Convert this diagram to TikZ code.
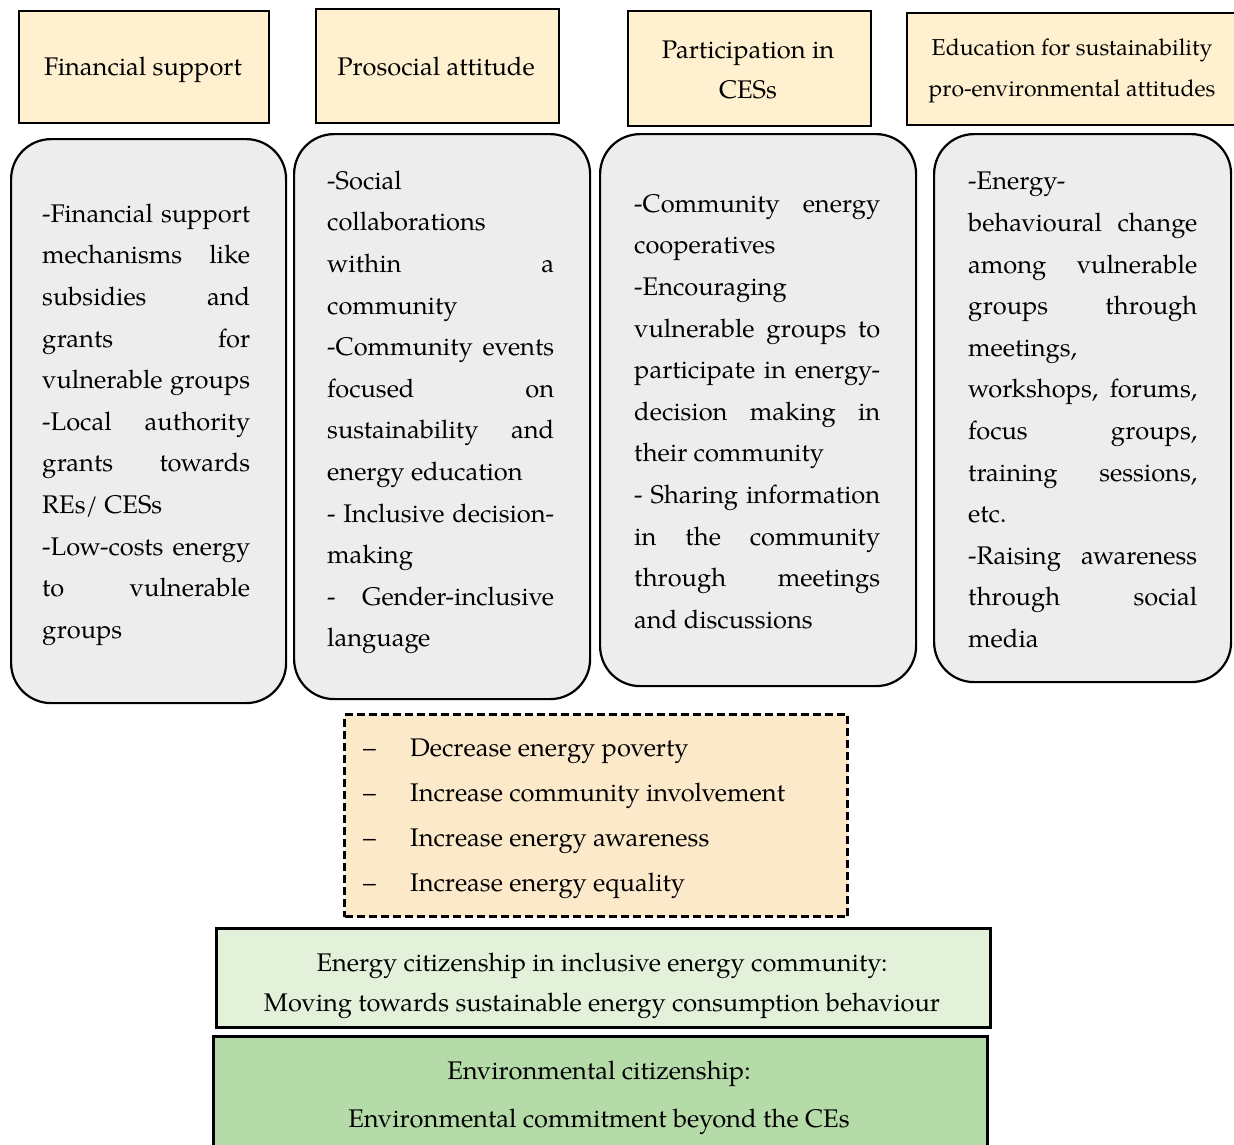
\documentclass[tikz,border=0pt]{standalone}
\usepackage{fontspec}
\setmainfont{TeX Gyre Pagella}
\definecolor{topfill}{HTML}{FFF0CF}
\definecolor{goalfill}{HTML}{FCE9CA}
\definecolor{grayfill}{HTML}{EDEDED}
\definecolor{greenA}{HTML}{E3F1DA}
\definecolor{greenB}{HTML}{B5DBA8}
\newcommand{\jline}[2]{\makebox[#1pt][s]{#2}}
\begin{document}
\begin{tikzpicture}[x=1pt,y=-1pt,
  topbox/.style={draw=black, line width=2.4pt, fill=topfill, anchor=north west, inner sep=0pt},
  graybox/.style={draw=black, line width=2.2pt, fill=grayfill, rounded corners=40pt, anchor=north west, inner sep=0pt},
  goalbox/.style={draw=black, line width=3pt, dash pattern=on 8pt off 4pt, fill=goalfill, anchor=north west, inner sep=0pt},
  greenbox/.style={draw=black, line width=2.8pt, anchor=north west, inner sep=0pt},
  body/.style={anchor=north west, inner sep=0pt, align=left, font=\fontsize{25.5}{41.6}\selectfont},
  ctext/.style={anchor=north, inner sep=0pt, align=center}
]
\useasboundingbox (0,0) rectangle (1234,1144);
\fill[white] (0,0) rectangle (1234,1144);

% header boxes
\node[topbox, minimum width=250, minimum height=112] (h1) at (18,10) {};
\node[topbox, minimum width=243, minimum height=114] (h2) at (315,8) {};
\node[topbox, minimum width=243, minimum height=115] (h3) at (627,10) {};
\node[topbox, minimum width=340, minimum height=112] (h4) at (906,12) {};

\node[ctext, font=\fontsize{25.5}{40}\selectfont] (t1) at (143,47) {\strut Financial support};
\node[ctext, font=\fontsize{25.5}{40}\selectfont] (t2) at (436,47) {\strut Prosocial attitude};
\node[ctext, font=\fontsize{25.5}{40}\selectfont] (t3) at (748,30) {\strut Participation in\\CESs};
\node[ctext, font=\fontsize{23}{41}\selectfont] (t4) at (1072,27) {\strut Education for sustainability\\pro-environmental attitudes};

% grey boxes
\node[graybox, minimum width=275, minimum height=564] (g1) at (10,138) {};
\node[graybox, minimum width=296, minimum height=565] (g2) at (293,133) {};
\node[graybox, minimum width=316, minimum height=552] (g3) at (599,133) {};
\node[graybox, minimum width=297, minimum height=548] (g4) at (933,133) {};

\node[body] (b1) at (42,193) {\strut\jline{208}{-Financial support}\\
\jline{208}{mechanisms like}\\
\jline{208}{subsidies and}\\
\jline{208}{grants for}\\
\jline{208}{vulnerable groups}\\
\jline{208}{-Local authority}\\
\jline{208}{grants towards}\\
REs/ CESs\\
\jline{208}{-Low-costs energy}\\
\jline{208}{to vulnerable}\\
groups};

\node[body] (b2) at (327,160) {\strut -Social\\
collaborations\\
\jline{227}{within a}\\
community\\
\jline{227}{-Community events}\\
\jline{227}{focused on}\\
\jline{227}{sustainability and}\\
energy education\\
\jline{227}{- Inclusive decision-}\\
making\\
\jline{227}{- Gender-inclusive}\\
language};

\node[body] (b3) at (634,183) {\strut\jline{246}{-Community energy}\\
cooperatives\\
-Encouraging\\
\jline{246}{vulnerable groups to}\\
\jline{246}{participate in energy-}\\
\jline{246}{decision making in}\\
their community\\
\jline{246}{- Sharing information}\\
\jline{246}{in the community}\\
\jline{246}{through meetings}\\
and discussions};

\node[body] (b4) at (968,160.5) {\strut -Energy-\\
\jline{229}{behavioural change}\\
\jline{229}{among vulnerable}\\
\jline{229}{groups through}\\
meetings,\\
\jline{229}{workshops, forums,}\\
\jline{229}{focus groups,}\\
\jline{229}{training sessions,}\\
etc.\\
\jline{229}{-Raising awareness}\\
\jline{229}{through social}\\
media};

% outcomes box
\node[goalbox, minimum width=503, minimum height=202] (goals) at (343,713) {};
\node[anchor=north west, inner sep=0pt, align=left, font=\fontsize{25.5}{45}\selectfont] (gl) at (363,724.5)
{\strut\makebox[47pt][l]{–}Decrease energy poverty\\
\makebox[47pt][l]{–}Increase community involvement\\
\makebox[47pt][l]{–}Increase energy awareness\\
\makebox[47pt][l]{–}Increase energy equality};

% green boxes
\node[greenbox, fill=greenA, minimum width=774, minimum height=99] (e1) at (215,927) {};
\node[ctext, font=\fontsize{25.5}{40}\selectfont] (e1t) at (602,943) {\strut Energy citizenship in inclusive energy community:\\Moving towards sustainable energy consumption behaviour};
\node[greenbox, fill=greenB, minimum width=774, minimum height=130] (e2) at (212,1035) {};
\node[ctext, font=\fontsize{25.5}{48}\selectfont] (e2t) at (599,1046) {\strut Environmental citizenship:\\Environmental commitment beyond the CEs};
\end{tikzpicture}
\end{document}
